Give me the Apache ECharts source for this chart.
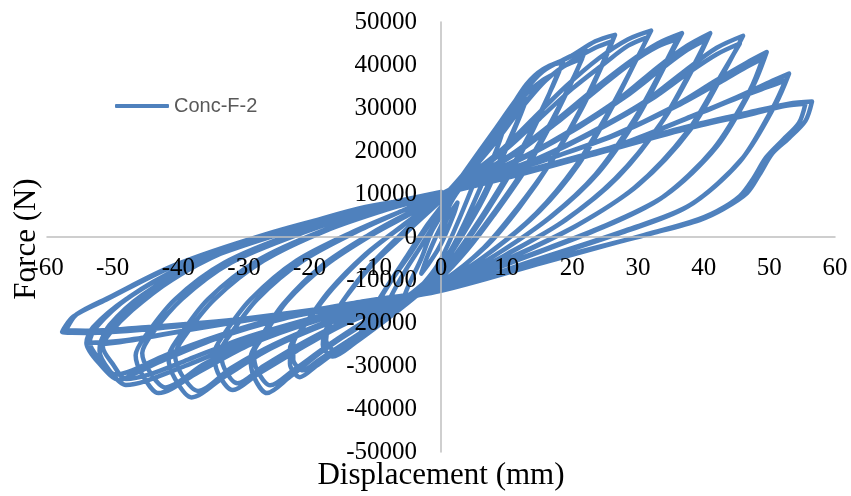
<!DOCTYPE html>
<html>
<head>
<meta charset="utf-8">
<script src="https://cdn.jsdelivr.net/npm/echarts@6/dist/echarts.min.js"></script>
<style>
  html, body { margin: 0; padding: 0; background: #fff; }
  #chart { width: 851px; height: 496px; }
</style>
</head>
<body>
<div id="chart"></div>
<script>
// Cyclic test record of specimen Conc-F-2: [displacement (mm), force (N)]
// Each amplitude level is run twice (a and b cycles).
const seriesName = 'Conc-F-2';
const xTicks = { min: -60, max: 60, step: 10 };
const yTicks = { min: -50000, max: 50000, step: 10000 };

const cycle01 = [[0,0],[1,4500],[2.5,8000],[2,5500],[0.5,0],[-0.5,-3000],[-2,-6500],[-3,-8500],[-2.2,-5000],[-0.8,0],[0,2500]];
const cycle02 = [[0,2500],[1.5,8000],[3.5,12500],[6,16500],[5,12500],[3,5000],[1,-2000],[-0.5,-6500],[-2.5,-10500],[-4.5,-13500],[-6,-15500],[-5,-11500],[-3,-5000],[-1.5,1000],[0,5000]];
const cycle03 = [[0,5000],[1.5,9500],[4,15500],[7,21500],[9.5,25000],[8.5,20500],[6,11500],[3.5,3000],[1.5,-3000],[-1,-8500],[-4,-13000],[-7,-17000],[-9,-19500],[-8,-15000],[-5.5,-8000],[-3,-2000],[-1,3000],[0,6000]];
const cycle04a = [[0,6000],[1.5,9500],[4,15000],[8,24000],[11,29500],[13,32000],[12,28000],[9.5,19000],[6.5,9000],[3.5,1000],[0,-7000],[-4,-12500],[-8,-17500],[-12.5,-23000],[-11,-18500],[-8,-11000],[-5,-4000],[-2,3000],[0,7000]];
const cycle04b = [[0,7000],[1.5,10000],[4,15000],[8,22500],[11,28000],[12.5,30500],[11.5,26500],[9,18000],[6,8500],[3,500],[0,-7500],[-4,-12500],[-8,-17000],[-12,-21500],[-10.5,-17500],[-7.5,-10000],[-4.5,-3500],[-2,2500],[0,7000]];
const cycle05a = [[0,7000],[1.5,10500],[4,16000],[8,24500],[11,31000],[14,37000],[16.5,39800],[18.6,40500],[17.5,37000],[15,28000],[11,16000],[7,6000],[3,-3000],[0,-8500],[-4,-14000],[-9,-20000],[-13,-24500],[-16.5,-27800],[-18,-25000],[-17.5,-21500],[-15,-15000],[-11,-7000],[-6.5,0],[-3,5000],[0,8500]];
const cycle05b = [[0,8500],[2,11000],[5,17000],[9,25000],[12.5,32500],[15.5,36500],[18,38500],[17,35000],[14.5,27000],[10.5,15500],[6.5,5500],[2.5,-3500],[0,-8500],[-4,-13500],[-8.5,-19000],[-12.5,-23500],[-16,-26500],[-17.5,-24000],[-17,-20500],[-14.5,-14000],[-10.5,-6500],[-6,0],[-2.5,5000],[0,8500]];
const cycle06a = [[0,8500],[2,12000],[5,17500],[9,26000],[12.5,33500],[15.5,38500],[19,41500],[22,43500],[20.5,38000],[17,27000],[13,16000],[8,5000],[4,-3000],[0,-9500],[-5,-15000],[-10,-20500],[-15,-25500],[-19,-30000],[-21.5,-32600],[-23,-29500],[-23,-26000],[-21,-21000],[-17,-12500],[-11.5,-4000],[-6,2500],[-2.5,6500],[0,9000]];
const cycle06b = [[0,9000],[3,13000],[7,20000],[11,28000],[15,35000],[18.5,39500],[21.5,41500],[20,36500],[16.5,26000],[12.5,15500],[7.5,4500],[3.5,-3500],[0,-9500],[-5,-14500],[-10,-20000],[-14.5,-24500],[-18.5,-28500],[-21,-31000],[-22.5,-28500],[-22.5,-25000],[-20.5,-20000],[-16.5,-12000],[-11,-3500],[-5.5,3000],[-2.5,6500],[0,9000]];
const cycle07a = [[0,9000],[2.5,13000],[6,19500],[10,28500],[13,35500],[15.5,39000],[19.5,41800],[23.5,45500],[26.5,47000],[25,41500],[21.5,30000],[17,18000],[12,7000],[7,-2000],[0,-10500],[-6,-15500],[-12,-20500],[-18,-26500],[-23,-32500],[-26.5,-36300],[-28.5,-32500],[-29,-28000],[-27.5,-23500],[-24,-15500],[-18,-6500],[-11,500],[-5,5500],[0,9000]];
const cycle07b = [[0,9000],[4,14500],[8,21500],[12,29500],[16,36500],[20,41000],[23.5,44000],[26,45500],[24.5,40000],[21,29000],[16.5,17000],[11.5,6500],[6.5,-2500],[0,-10500],[-6,-15000],[-12,-20000],[-17.5,-25500],[-22.5,-31000],[-26,-34500],[-28,-31000],[-28.5,-27000],[-27,-23000],[-23.5,-15000],[-17.5,-6500],[-10.5,500],[-4.5,5500],[0,9500]];
const cycle08a = [[0,9500],[4,14000],[9,20000],[14,27500],[19,35000],[24,41500],[28.5,46000],[32,48000],[30,42000],[26,30000],[21,17000],[15,6000],[8,-3000],[0,-11000],[-7,-15500],[-15,-20500],[-22,-26500],[-28,-32000],[-31.7,-35600],[-34,-31500],[-34.5,-27000],[-33,-22500],[-29,-14500],[-22,-5500],[-13,1500],[-6,6000],[0,9500]];
const cycle08b = [[0,9500],[5,14500],[10,20500],[15,27500],[20,34500],[25,40500],[28.5,44500],[31.5,46500],[29.5,40500],[25.5,29000],[20.5,16500],[14.5,5500],[7.5,-3500],[0,-11000],[-7,-15000],[-14.5,-19500],[-21.5,-25000],[-27,-30000],[-31,-34000],[-33,-30500],[-33.5,-26500],[-32,-22500],[-28,-14500],[-21,-5500],[-12.5,1500],[-6,6000],[0,10000]];
const cycle09a = [[0,10000],[5,14000],[11,19500],[17,26500],[23,34000],[28.5,40500],[33,45000],[36.7,47400],[34.5,41000],[30,28000],[24,15000],[17,5000],[9,-3500],[0,-11500],[-8,-15500],[-17,-20000],[-26,-26000],[-33,-32500],[-38,-37300],[-40.5,-33000],[-41.5,-28000],[-40,-23500],[-35.5,-14500],[-28,-5500],[-18,1500],[-8,6500],[0,10000]];
const cycle09b = [[0,10000],[6,14500],[12,20000],[18,27000],[24,34500],[29,40500],[33,44300],[36,46000],[34,40000],[29.5,27500],[23.5,14500],[16.5,4500],[8.5,-4000],[0,-11500],[-8,-15000],[-17,-19500],[-25.5,-25000],[-32,-30500],[-37,-35800],[-39.5,-32000],[-40.5,-27500],[-39,-23000],[-34.5,-14500],[-27,-5500],[-17.5,1500],[-8,6500],[0,10000]];
const cycle10a = [[0,10000],[6,14000],[13,19000],[20,25000],[27,32000],[33,39500],[37.5,44500],[41,47400],[39,41000],[34,27500],[27,14000],[19,4000],[10,-4000],[0,-12000],[-9,-15500],[-19,-19500],[-29,-25000],[-37,-31500],[-43,-36300],[-45.5,-32000],[-46.5,-27500],[-45,-23000],[-40.5,-14500],[-33,-6000],[-22,1000],[-10,6500],[0,10000]];
const cycle10b = [[0,10000],[7,14500],[14,19500],[21,25500],[28,32500],[33.5,39000],[37.5,43500],[40.5,46000],[38.5,40000],[33.5,26500],[26.5,13500],[18.5,3500],[9.5,-4500],[0,-12000],[-9,-15000],[-19,-19000],[-28.5,-24000],[-36,-29500],[-42,-35000],[-44.5,-31000],[-45.5,-27000],[-44,-22500],[-39.5,-14500],[-32,-6000],[-21,1000],[-10,6500],[0,10000]];
const cycle11a = [[0,10000],[7,14000],[15,18500],[23,24500],[31,31500],[37,38500],[42,44000],[46,46800],[43.5,39500],[38,25000],[30,12000],[21,3000],[11,-4500],[0,-12000],[-10,-15500],[-20,-19500],[-30,-24500],[-39,-30000],[-45,-33500],[-48,-34400],[-50.5,-31000],[-52,-26500],[-51.5,-23500],[-48,-17500],[-42,-10500],[-34,-4000],[-24,1500],[-12,6500],[0,10000]];
const cycle11b = [[0,10000],[8,14500],[16,19000],[24,25000],[32,32000],[37.5,38000],[42,42500],[45.5,45000],[43,38500],[37.5,24500],[29.5,11500],[20.5,2500],[10.5,-5000],[0,-12000],[-10,-15000],[-20,-19000],[-30,-23500],[-38.5,-28500],[-44.5,-32000],[-48,-33000],[-50,-29500],[-51.5,-25500],[-50.5,-22500],[-47,-17000],[-41,-10000],[-33,-3500],[-23,2000],[-11.5,7000],[0,10000]];
const cycle12a = [[0,10000],[8,14000],[17,18500],[26,23500],[35,30000],[42,36500],[46.5,40500],[49.6,43000],[47.5,35000],[42,21000],[34,9500],[24,2000],[12,-5000],[0,-12000],[-12,-15500],[-24,-19000],[-34,-23500],[-42,-28500],[-47,-32000],[-49,-33260],[-52,-29500],[-54,-24650],[-53,-21000],[-48,-14500],[-40,-7500],[-30,-1500],[-15,5000],[0,10000]];
const cycle12b = [[0,10000],[9,14500],[18,19000],[27,24000],[36,30500],[42.5,36000],[46.5,39500],[49,41500],[47,34000],[41.5,20500],[33.5,9000],[23.5,1500],[11.5,-5500],[0,-12000],[-12,-15000],[-24,-18500],[-34,-23000],[-42,-27500],[-47,-31000],[-49.5,-32000],[-52,-28500],[-53.5,-24500],[-52.5,-21000],[-47.5,-14000],[-39.5,-7000],[-29.5,-1000],[-15,5500],[0,10000]];
const cycle13a = [[0,10000],[9,13500],[19,17500],[29,22500],[38,28000],[45,32500],[50,36000],[53,38000],[51,31000],[46,18500],[38,7500],[28,1500],[14,-5500],[0,-12500],[-13,-15500],[-26,-18500],[-38,-21500],[-48,-24000],[-53.9,-24650],[-52.5,-20500],[-47,-13500],[-38,-6000],[-28,-500],[-14,5000],[0,10000]];
const cycle13b = [[0,10000],[10,14000],[20,18000],[30,23000],[39,28500],[45.5,32500],[50,35000],[52.5,36500],[50.5,30000],[45.5,17500],[37.5,7000],[27.5,1000],[13.5,-6000],[0,-12500],[-13,-15500],[-26,-18500],[-38,-21500],[-47,-24000],[-52,-25000],[-50.5,-20500],[-45.5,-13500],[-37,-6000],[-27,-500],[-13.5,5500],[0,10000]];
const cycle14a = [[0,10000],[12,15000],[24,20000],[37,25500],[47,29000],[53,31000],[56.5,31500],[55.5,27000],[53,23000],[50.5,19500],[48.5,14500],[46.6,10200],[43,6500],[39.4,3950],[32.3,930],[16,-5500],[0,-12500],[-15,-16000],[-30,-19000],[-45,-21500],[-54,-22300],[-57.7,-22100],[-56,-18500],[-51,-14600],[-41,-7000],[-27.6,0],[-14,5500],[0,10000]];
const cycle14b = [[0,10000],[12,14500],[24,19500],[37,25000],[47,28500],[52.5,30500],[55.5,31000],[54.5,26500],[52,22500],[49.5,18500],[47.5,13500],[45.5,9500],[42,6000],[38,3500],[31,500],[15.5,-6000],[0,-12500],[-15,-16000],[-30,-19000],[-45,-21000],[-53.5,-21800],[-57,-21500],[-55.5,-18000],[-50.5,-14000],[-40.5,-6500],[-27,500],[-13.5,6000],[0,10500]];

const record = [].concat(
  cycle01, cycle02, cycle03,
  cycle04a, cycle04b, cycle05a, cycle05b, cycle06a, cycle06b,
  cycle07a, cycle07b, cycle08a, cycle08b, cycle09a, cycle09b,
  cycle10a, cycle10b, cycle11a, cycle11b, cycle12a, cycle12b,
  cycle13a, cycle13b, cycle14a, cycle14b
);

const serif = 'Liberation Serif, Times New Roman, serif';
const plotW = 788, plotH = 430;
const chart = echarts.init(document.getElementById('chart'), null, { renderer: 'canvas' });

chart.setOption({
  animation: false,
  backgroundColor: '#ffffff',
  grid: { left: 47, top: 22, width: plotW, height: plotH, containLabel: false, outerBoundsMode: 'none' },
  legend: {
    left: 110,
    top: 91,
    icon: 'roundRect',
    itemWidth: 54,
    itemHeight: 4,
    itemGap: 0,
    textStyle: { fontFamily: 'Liberation Sans, Arial, sans-serif', fontSize: 20, color: '#595959' },
    data: [seriesName]
  },
  xAxis: {
    type: 'value',
    position: 'bottom',
    offset: -plotH / 2,
    min: xTicks.min,
    max: xTicks.max,
    interval: xTicks.step,
    z: 3,
    axisLine: { show: true, onZero: false, lineStyle: { color: '#bfbfbf', width: 1.5 } },
    axisTick: { show: false },
    splitLine: { show: false },
    axisLabel: { margin: 19, fontFamily: serif, fontSize: 25, color: '#000000', formatter: v => String(v) }
  },
  yAxis: {
    type: 'value',
    position: 'left',
    offset: -plotW / 2,
    min: yTicks.min,
    max: yTicks.max,
    interval: yTicks.step,
    z: 3,
    axisLine: { show: true, onZero: false, lineStyle: { color: '#bfbfbf', width: 1.5 } },
    axisTick: { show: false },
    splitLine: { show: false },
    axisLabel: { margin: 24, fontFamily: serif, fontSize: 25, color: '#000000', formatter: v => String(v) }
  },
  graphic: [
    {
      type: 'text', x: 27, y: 239, rotation: Math.PI / 2, z: 10,
      style: { text: 'Force (N)', fontFamily: serif, fontSize: 31, fill: '#000', textAlign: 'center', textVerticalAlign: 'middle' }
    },
    {
      type: 'text', x: 441, y: 476, z: 10,
      style: { text: 'Displacement (mm)', fontFamily: serif, fontSize: 31, fill: '#000', textAlign: 'center', textVerticalAlign: 'middle' }
    }
  ],
  series: [{
    name: seriesName,
    type: 'line',
    data: record,
    symbol: 'none',
    showSymbol: false,
    smooth: 0.3,
    z: 2,
    lineStyle: { color: '#4f81bd', width: 4.5, cap: 'round', join: 'round' },
    itemStyle: { color: '#4f81bd' }
  }]
});
</script>
</body>
</html>
